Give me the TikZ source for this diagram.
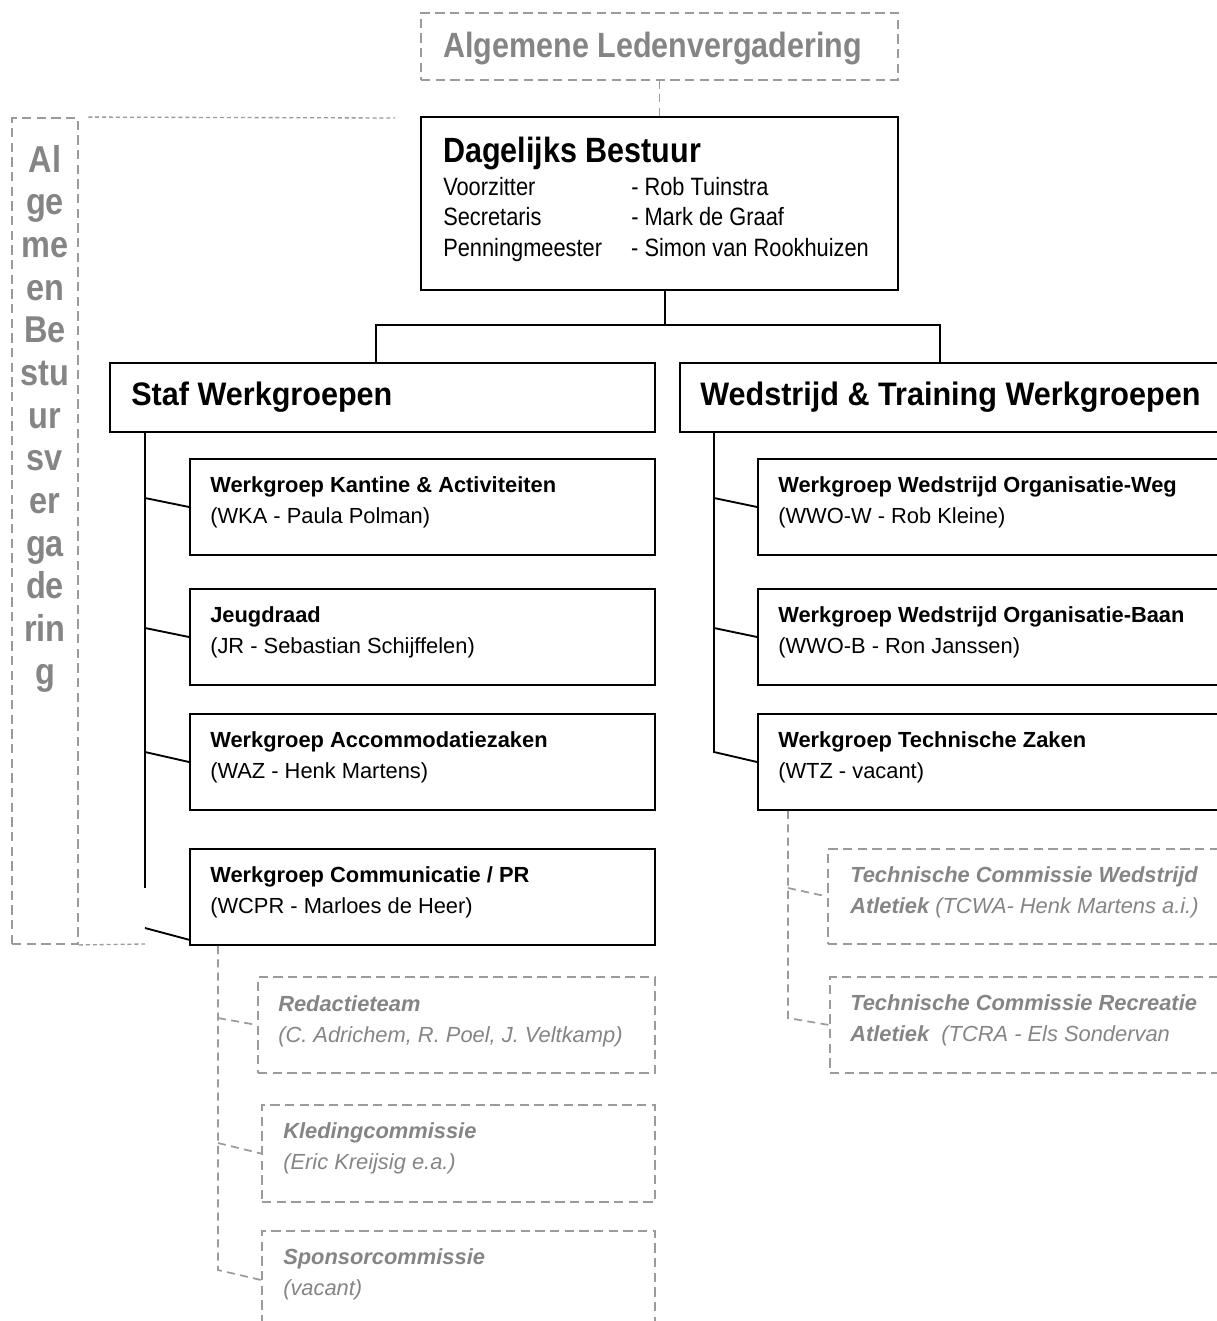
\documentclass[tikz,border=0pt]{standalone}
\usepackage{fontspec}
\setmainfont{Liberation Sans}
\newfontfamily\condf{Liberation Sans}[FakeStretch=0.87]
\newfontfamily\semif{Liberation Sans}[FakeStretch=0.94]
\usetikzlibrary{fit}
\definecolor{txtgray}{HTML}{858585}
\definecolor{lngray}{HTML}{9B9B9B}
\newcommand\boxfont{\fontsize{16.4pt}{23.6pt}\selectfont}
\newcommand\twoline[2]{\begin{tabular}[t]{@{}l@{}}#1\\#2\end{tabular}}
\begin{document}
\begin{tikzpicture}[x=0.75pt,y=-0.75pt,
  solidbox/.style={draw=black,line width=1.4pt,inner sep=0pt},
  dashbox/.style={draw=lngray,line width=1.4pt,dash pattern=on 7pt off 4pt,inner sep=0pt},
  link/.style={draw=black,line width=1.4pt},
  dlink/.style={draw=lngray,line width=1.3pt,dash pattern=on 6pt off 4pt},
  flink/.style={draw=lngray,line width=1pt,dash pattern=on 3pt off 2.2pt},
  lbl/.style={inner sep=0pt,anchor=base west,font=\boxfont},
  glbl/.style={lbl,text=txtgray},
  bigcond/.style={lbl,font=\condf\bfseries\fontsize{26.3pt}{32pt}\selectfont},
  bigsemi/.style={lbl,font=\semif\bfseries\fontsize{24.4pt}{30pt}\selectfont},
]
\useasboundingbox (0,0) rectangle (1217,1321);
\fill[white] (0,0) rectangle (1217,1321);
\clip (0,0) rectangle (1217,1321);

% ---------- top ----------
\coordinate (alv-a) at (421,13); \coordinate (alv-b) at (898,80);
\node[dashbox,fit=(alv-a)(alv-b)] (alv) {};
\node[bigcond,text=txtgray] (alvt) at (443,57) {Algemene Ledenvergadering};

\coordinate (db-a) at (421,117); \coordinate (db-b) at (898,290);
\node[solidbox,fit=(db-a)(db-b)] (db) {};
\node[bigcond] (dbt) at (443,162) {Dagelijks Bestuur};
\node[lbl,font=\condf\fontsize{18.8pt}{22.9pt}\selectfont] (dbr) at (443,195)
  {\begin{tabular}[t]{@{}p{141pt}@{}l@{}}Voorzitter & - Rob Tuinstra\\Secretaris & - Mark de Graaf\\Penningmeester & - Simon van Rookhuizen\end{tabular}};

% ---------- second level ----------
\coordinate (staf-a) at (110,363); \coordinate (staf-b) at (655,432);
\node[solidbox,fit=(staf-a)(staf-b)] (staf) {};
\node[bigsemi] (staft) at (131,405) {Staf Werkgroepen};

\coordinate (wt-a) at (680,363); \coordinate (wt-b) at (1240,432);
\node[solidbox,fit=(wt-a)(wt-b)] (wt) {};
\node[bigsemi] (wtt) at (700,405) {Wedstrijd \& Training Werkgroepen};

% ---------- left boxes ----------
\coordinate (wka-a) at (190,459); \coordinate (wka-b) at (655,555);
\node[solidbox,fit=(wka-a)(wka-b)] (wka) {};
\node[lbl] (wkat) at (210,492) {\twoline{\bfseries Werkgroep Kantine \& Activiteiten}{(WKA - Paula Polman)}};

\coordinate (jr-a) at (190,589); \coordinate (jr-b) at (655,685);
\node[solidbox,fit=(jr-a)(jr-b)] (jrb) {};
\node[lbl] (jrt) at (210,622) {\twoline{\bfseries Jeugdraad}{(JR - Sebastian Schijffelen)}};

\coordinate (waz-a) at (190,714); \coordinate (waz-b) at (655,810);
\node[solidbox,fit=(waz-a)(waz-b)] (waz) {};
\node[lbl] (wazt) at (210,747) {\twoline{\bfseries Werkgroep Accommodatiezaken}{(WAZ - Henk Martens)}};

\coordinate (wcpr-a) at (190,849); \coordinate (wcpr-b) at (655,945);
\node[solidbox,fit=(wcpr-a)(wcpr-b)] (wcpr) {};
\node[lbl] (wcprt) at (210,882) {\twoline{\bfseries Werkgroep Communicatie / PR}{(WCPR - Marloes de Heer)}};

% ---------- right boxes ----------
\coordinate (wwow-a) at (758,459); \coordinate (wwow-b) at (1240,555);
\node[solidbox,fit=(wwow-a)(wwow-b)] (wwow) {};
\node[lbl] (wwowt) at (778,492) {\twoline{\bfseries Werkgroep Wedstrijd Organisatie-Weg}{(WWO-W - Rob Kleine)}};

\coordinate (wwob-a) at (758,589); \coordinate (wwob-b) at (1240,685);
\node[solidbox,fit=(wwob-a)(wwob-b)] (wwob) {};
\node[lbl] (wwobt) at (778,622) {\twoline{\bfseries Werkgroep Wedstrijd Organisatie-Baan}{(WWO-B - Ron Janssen)}};

\coordinate (wtz-a) at (758,714); \coordinate (wtz-b) at (1240,810);
\node[solidbox,fit=(wtz-a)(wtz-b)] (wtz) {};
\node[lbl] (wtzt) at (778,747) {\twoline{\bfseries Werkgroep Technische Zaken}{(WTZ - vacant)}};

% ---------- grey commissions (right) ----------
\coordinate (tcwa-a) at (828,849); \coordinate (tcwa-b) at (1240,944);
\node[dashbox,fit=(tcwa-a)(tcwa-b)] (tcwa) {};
\node[glbl] (tcwat) at (850,882) {\twoline{\bfseries\itshape Technische Commissie Wedstrijd}{{\bfseries\itshape Atletiek} \itshape (TCWA- Henk Martens a.i.)}};

\coordinate (tcra-a) at (830,977); \coordinate (tcra-b) at (1240,1073);
\node[dashbox,fit=(tcra-a)(tcra-b)] (tcra) {};
\node[glbl] (tcrat) at (850,1010) {\twoline{\bfseries\itshape Technische Commissie Recreatie}{{\bfseries\itshape Atletiek}\itshape\ \ (TCRA - Els Sondervan}};

% ---------- grey commissions (left) ----------
\coordinate (red-a) at (258,977); \coordinate (red-b) at (655,1073);
\node[dashbox,fit=(red-a)(red-b)] (red) {};
\node[glbl] (redt) at (278,1011) {\twoline{\bfseries\itshape Redactieteam}{\itshape (C. Adrichem, R. Poel, J. Veltkamp)}};

\coordinate (kled-a) at (262,1105); \coordinate (kled-b) at (655,1202);
\node[dashbox,fit=(kled-a)(kled-b)] (kled) {};
\node[glbl] (kledt) at (283,1138) {\twoline{\bfseries\itshape Kledingcommissie}{\itshape (Eric Kreijsig e.a.)}};

\coordinate (spon-a) at (262,1231); \coordinate (spon-b) at (655,1329);
\node[dashbox,fit=(spon-a)(spon-b)] (spon) {};
\node[glbl] (spont) at (283,1264) {\twoline{\bfseries\itshape Sponsorcommissie}{\itshape (vacant)}};

% ---------- Algemeen Bestuursvergadering ----------
\coordinate (ab-a) at (12,118); \coordinate (ab-b) at (78,944);
\node[dashbox,fit=(ab-a)(ab-b)] (ab) {};
\node[font=\condf\bfseries\fontsize{28pt}{32pt}\selectfont,text=txtgray,align=center,anchor=north,inner sep=0pt] (abt) at (45,145)
  {Al\\ge\\me\\en\\Be\\stu\\ur\\sv\\er\\ga\\de\\rin\\g};
\coordinate (ab-top) at (395,118);
\coordinate (ab-bot) at (145,944);
\draw[flink,shorten <=7pt] (ab.north east) -- (ab-top);
\draw[flink] (ab.south east) -- (ab-bot);

% ---------- connectors ----------
\draw[dlink] (alv.south) -- (db.north);
\coordinate (j0) at (665,325); \coordinate (jl) at (376,325); \coordinate (jr) at (940,325);
\draw[link] (db.south -| j0) -- (j0);
\draw[link] (staf.north -| jl) -- (jl) -- (jr) -- (wt.north -| jr);

\coordinate (lt) at (145,888);
\draw[link] (staf.south -| lt) -- (lt);
\coordinate (lb1) at (145,498); \coordinate (lb2) at (145,628); \coordinate (lb3) at (145,752);
\coordinate (lb4) at (145,928); \coordinate (lb4e) at (190,940);
\draw[link] (lb1) -- (wka.west);
\draw[link] (lb2) -- (jrb.west);
\draw[link] (lb3) -- (waz.west);
\draw[link] (lb4) -- (lb4e);

\coordinate (rt) at (714,752);
\draw[link] (wt.south -| rt) -- (rt) -- (wtz.west);
\coordinate (rb1) at (714,498); \coordinate (rb2) at (714,628);
\draw[link] (rb1) -- (wwow.west);
\draw[link] (rb2) -- (wwob.west);

\coordinate (gr) at (788,1018); \coordinate (gr1) at (788,888);
\draw[dlink] (wtz.south -| gr) -- (gr) -- (tcra.west);
\draw[dlink] (gr1) -- (tcwa.west);

\coordinate (gl) at (218,1270); \coordinate (gl1) at (218,1018); \coordinate (gl2) at (218,1143);
\draw[dlink] (wcpr.south -| gl) -- (gl) -- (spon.west);
\draw[dlink] (gl1) -- (red.west);
\draw[dlink] (gl2) -- (kled.west);
\end{tikzpicture}
\end{document}
